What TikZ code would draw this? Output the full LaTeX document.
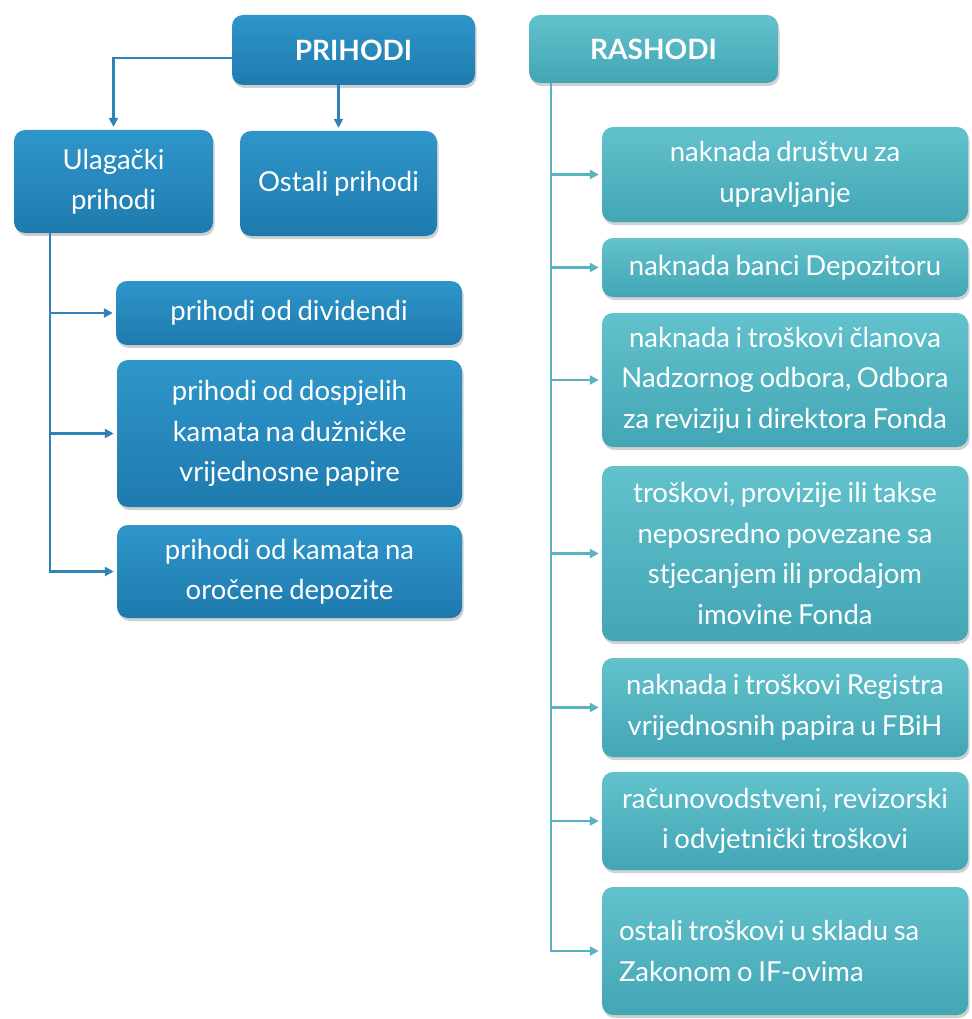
\documentclass[tikz,border=0pt]{standalone}
\usepackage{fontspec}
\setmainfont{Lato}[WordSpace=0.8]
\usetikzlibrary{arrows.meta,shadows}

\definecolor{bluetop}{HTML}{2F96CA}
\definecolor{bluebot}{HTML}{1E7AAE}
\definecolor{tealtop}{HTML}{62C2CC}
\definecolor{tealbot}{HTML}{43A6B5}
\definecolor{blueline}{HTML}{2F82B6}
\definecolor{tealline}{HTML}{58B2BF}

\tikzset{
  box/.style={rectangle, rounded corners=11pt, inner sep=0pt, text=white,
    align=center, font=\fontsize{27.5}{40.5}\selectfont,
    drop shadow={shadow xshift=1.5pt, shadow yshift=-3pt, opacity=0.3, fill=black!60}},
  bluebox/.style={box, top color=bluetop, bottom color=bluebot},
  tealbox/.style={box, top color=tealtop, bottom color=tealbot},
  headtext/.style={font=\fontsize{28}{34}\selectfont\bfseries},
  link/.style={line width=2.6pt, -{Triangle[length=9pt,width=9pt]}, shorten >=3pt},
  bluelink/.style={link, draw=blueline},
  teallink/.style={link, draw=tealline},
}

\begin{document}
\begin{tikzpicture}[x=1pt,y=-1pt]
\useasboundingbox (0,0) rectangle (971,1019);
\fill[white] (0,0) rectangle (971,1019);

% income side
\node[bluebox, headtext, minimum width=243pt, minimum height=70pt] (prih) at (353.5,50) {PRIHODI};
\node[bluebox, minimum width=199pt, minimum height=103pt] (ulag) at (113.5,181.5) {Ulagački\\prihodi};
\node[bluebox, minimum width=197pt, minimum height=105pt] (ostp) at (338.5,183.5) {Ostali prihodi};
\node[bluebox, minimum width=346pt, minimum height=64pt] (div) at (289,313) {prihodi od dividendi};
\node[bluebox, minimum width=345pt, minimum height=147pt] (dosp) at (289.5,433.5) {prihodi od dospjelih\\kamata na dužničke\\vrijednosne papire};
\node[bluebox, minimum width=345pt, minimum height=93pt] (kam) at (289.5,571.5) {prihodi od kamata na\\oročene depozite};

% expense side
\node[tealbox, headtext, minimum width=249pt, minimum height=68pt] (rash) at (653.5,49) {RASHODI};
\node[tealbox, minimum width=366pt, minimum height=95pt] (r1) at (785,174.5) {naknada društvu za\\upravljanje};
\node[tealbox, minimum width=366pt, minimum height=59pt] (r2) at (785,267.5) {naknada banci Depozitoru};
\node[tealbox, minimum width=366pt, minimum height=134pt] (r3) at (785,380) {naknada i troškovi članova\\Nadzornog odbora, Odbora\\za reviziju i direktora Fonda};
\node[tealbox, minimum width=366pt, minimum height=175pt] (r4) at (785,553.5) {troškovi, provizije ili takse\\neposredno povezane sa\\stjecanjem ili prodajom\\imovine Fonda};
\node[tealbox, minimum width=366pt, minimum height=99pt] (r5) at (785,707.5) {naknada i troškovi Registra\\vrijednosnih papira u FBiH};
\node[tealbox, minimum width=366pt, minimum height=98pt] (r6) at (785,821) {računovodstveni, revizorski\\i odvjetnički troškovi};
\node[tealbox, minimum width=366pt, minimum height=128pt, text width=332pt, align=flush left] (r7) at (785,951) {ostali troškovi u skladu sa\\Zakonom o IF-ovima};

% connectors, income
\draw[bluelink] ([yshift=-8pt]prih.west) -| (ulag.north);
\draw[bluelink] (prih.south -| ostp.north) -- (ostp.north);
\coordinate (ltop) at ([xshift=36pt]ulag.south west);
\draw[bluelink] (ltop) |- (div);
\draw[bluelink] (ltop) |- (dosp);
\draw[bluelink] (ltop) |- (kam);

% connectors, expenses
\coordinate (rtop) at ([xshift=22pt]rash.south west);
\foreach \n in {r1,r2,r3,r4,r5,r6,r7}
  \draw[teallink] (rtop) |- (\n);
\end{tikzpicture}
\end{document}
